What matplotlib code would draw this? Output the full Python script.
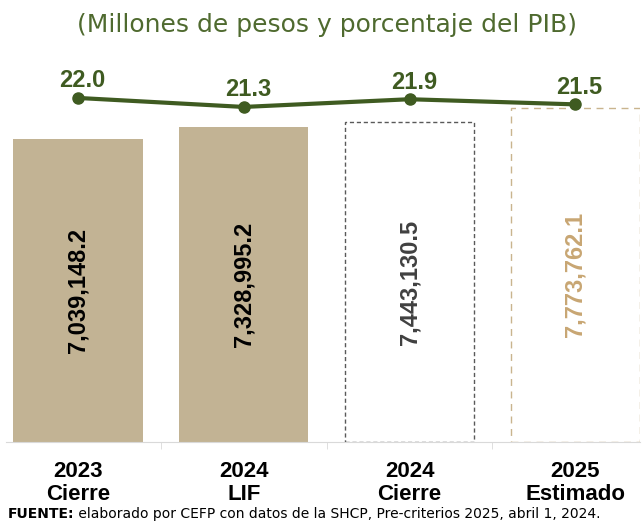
import matplotlib.pyplot as plt

categories = ['2023\nCierre', '2024\nLIF', '2024\nCierre', '2025\nEstimado']
montos = [7039148.2, 7328995.2, 7443130.5, 7773762.1]
pct_pib = [22.0, 21.3, 21.9, 21.5]
etiquetas_monto = ['7,039,148.2', '7,328,995.2', '7,443,130.5', '7,773,762.1']

fuente = ['Liberation Sans', 'DejaVu Sans']
verde = '#3F5B21'
beige = '#C2B394'

fig = plt.figure(figsize=(6.44, 5.22), dpi=100)
ax = fig.add_axes([6/644, 80/522, 634/644, 382/522])

x = list(range(len(categories)))
fills = [beige, beige, 'white', 'white']
edges = [beige, beige, '#595959', '#C9B48E']
styles = ['solid', 'solid', (0, (3, 2)), (0, (5, 4))]
lab_colors = ['black', 'black', '#404040', '#C8A673']

for i in x:
    ax.bar(i, montos[i], width=0.78, color=fills[i], edgecolor=edges[i],
           linewidth=1 if i > 1 else 0, linestyle=styles[i])
    ax.text(i, montos[i] / 2, etiquetas_monto[i], rotation=90, ha='center', va='center',
            fontsize=17, fontweight='bold', color=lab_colors[i], family=fuente)

ax.set_xlim(-0.434, 3.39)
ax.set_ylim(0, 8.884e6)
ax.set_yticks([])
for s in ['top', 'right', 'left']:
    ax.spines[s].set_visible(False)
ax.spines['bottom'].set_color('#D9D9D9')
ax.set_xticks(x)
ax.set_xticklabels(categories, fontsize=16, fontweight='bold', family=fuente, linespacing=1.1)
ax.tick_params(axis='x', which='major', length=0, pad=14)
ax.set_xticks([0.5, 1.5, 2.5], minor=True)
ax.tick_params(axis='x', which='minor', length=5, color='#D9D9D9', direction='out')

# % del PIB en eje secundario
ax2 = ax.twinx()
ax2.set_ylim(-4.75, 24.95)
ax2.plot(x, pct_pib, color=verde, linewidth=3, marker='o', markersize=8)
for i in x:
    ax2.annotate(f'{pct_pib[i]:.1f}', (i, pct_pib[i]), xytext=(3, 4), textcoords='offset points',
                 ha='center', va='bottom', fontsize=17, fontweight='bold', color=verde, family=fuente)
ax2.set_yticks([])
for s in ax2.spines.values():
    s.set_visible(False)

fig.text(0.507, 0.952, '(Millones de pesos y porcentaje del PIB)', ha='center', va='center',
         fontsize=18, color='#4F6A2F')
t1 = fig.text(8/644, 1/522, 'FUENTE:', ha='left', va='bottom', fontsize=10,
              fontweight='bold', color='black')
ax.annotate(' elaborado por CEFP con datos de la SHCP, Pre-criterios 2025, abril 1, 2024.',
            xy=(1, 0), xycoords=t1, ha='left', va='bottom', fontsize=10, color='black',
            annotation_clip=False)

fig.savefig('out.png', dpi=100)
